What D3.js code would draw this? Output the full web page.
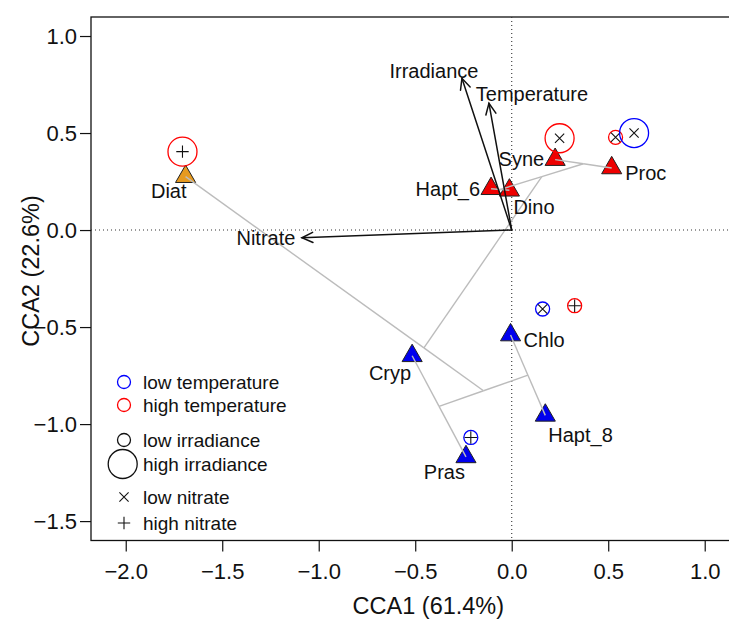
<!DOCTYPE html>
<html>
<head>
<meta charset="utf-8">
<script src="https://cdn.jsdelivr.net/npm/d3@7"></script>
<style>
  html, body { margin: 0; padding: 0; background: #fff; }
  svg { display: block; font-family: "Liberation Sans", Arial, Helvetica, sans-serif; }
</style>
</head>
<body>
<svg id="chart" width="729" height="619"></svg>
<script>
// ---- Species scores (CCA1, CCA2) ----
const species     = ["Diat", "Hapt_6", "Dino", "Syne", "Proc", "Cryp", "Chlo", "Hapt_8", "Pras"];
const speciesCCA1 = [-1.69, -0.107, -0.012, 0.225, 0.518, -0.516, -0.006, 0.174, -0.237];
const speciesCCA2 = [0.275, 0.213, 0.205, 0.363, 0.320, -0.648, -0.541, -0.955, -1.169];
const speciesCluster = [1, 2, 2, 2, 2, 3, 3, 3, 3];

// hclust-style merge table (negative = species index, positive = earlier merge)
const clusterMerges = [
  [-2, -3],   // Hapt_6 + Dino
  [-4, -5],   // Syne + Proc
  [-7, -8],   // Chlo + Hapt_8
  [-6, -9],   // Cryp + Pras
  [3, 4],
  [-1, 5],    // Diat joins the lower group
  [1, 2],
  [6, 7]
];

// ---- Sample scores and their environmental levels ----
const sampleCCA1 = [-1.706, 0.248, 0.538, 0.634, 0.160, 0.326, -0.212];
const sampleCCA2 = [0.404, 0.473, 0.478, 0.500, -0.407, -0.390, -1.069];
const sampleTemperature = ["high", "high", "high", "low", "low", "high", "low"];
const sampleIrradiance  = ["high", "high", "low", "high", "low", "low", "low"];
const sampleNitrate     = ["high", "low", "low", "low", "low", "high", "high"];

// ---- Environmental biplot arrows ----
const envNames = ["Irradiance", "Temperature", "Nitrate"];
const envCCA1  = [-0.258, -0.118, -1.087];
const envCCA2  = [0.782, 0.653, -0.040];

// ---- Axes ----
const xTicks = [-2.0, -1.5, -1.0, -0.5, 0.0, 0.5, 1.0];
const yTicks = [-1.5, -1.0, -0.5, 0.0, 0.5, 1.0];
const xTitle = "CCA1 (61.4%)";
const yTitle = "CCA2 (22.6%)";

const legendLabels = ["low temperature", "high temperature", "low irradiance",
                      "high irradiance", "low nitrate", "high nitrate"];

// ---------------------------------------------------------------
const svg = d3.select("#chart");
const plot = { left: 91, top: 17, right: 765.7, bottom: 540.5 };

const x = d3.scaleLinear().domain([-2.18, 1.316]).range([plot.left, plot.right]);
const y = d3.scaleLinear().domain([-1.6, 1.098]).range([plot.bottom, plot.top]);

const clusterColor = { 1: "#e69a20", 2: "#ee0000", 3: "#0000ee" };
const tempColor = { low: "#0000ff", high: "#ff0000" };
const irrRadius = { low: 7, high: 14.5 };

// axes
const fmt = d3.format(".1f");
const xAxis = svg.append("g")
  .attr("transform", `translate(0,${plot.bottom})`)
  .call(d3.axisBottom(x).tickValues(xTicks).tickFormat(fmt).tickSize(11).tickPadding(12));
const yAxis = svg.append("g")
  .attr("transform", `translate(${plot.left},0)`)
  .call(d3.axisLeft(y).tickValues(yTicks).tickFormat(fmt).tickSize(11).tickPadding(3));
[xAxis, yAxis].forEach(g => {
  g.select(".domain").remove();
  g.selectAll(".tick line").attr("stroke", "#111").attr("stroke-width", 1.2);
  g.selectAll(".tick text").attr("fill", "#111").style("font-size", "22px")
    .style("font-family", "'Liberation Sans', Arial, sans-serif");
});

// frame
svg.append("rect")
  .attr("x", plot.left).attr("y", plot.top)
  .attr("width", plot.right - plot.left).attr("height", plot.bottom - plot.top)
  .attr("fill", "none").attr("stroke", "#111").attr("stroke-width", 1.3);

// axis titles
svg.append("text")
  .attr("x", (plot.left + plot.right) / 2).attr("y", 614)
  .attr("text-anchor", "middle").style("font-size", "23.5px").attr("fill", "#111")
  .text(xTitle);
svg.append("text")
  .attr("transform", "translate(38.5,271) rotate(-90)")
  .attr("text-anchor", "middle").style("font-size", "23.5px").attr("fill", "#111")
  .text(yTitle);

// zero reference lines
const inner = svg.append("g");
inner.append("line")
  .attr("x1", x(0)).attr("x2", x(0)).attr("y1", plot.top).attr("y2", plot.bottom)
  .attr("stroke", "#333").attr("stroke-width", 1.1).attr("stroke-dasharray", "1,3");
inner.append("line")
  .attr("x1", plot.left).attr("x2", plot.right).attr("y1", y(0)).attr("y2", y(0))
  .attr("stroke", "#333").attr("stroke-width", 1.1).attr("stroke-dasharray", "1,3");

// species triangles
const tri = d3.symbol().type(d3.symbolTriangle).size(175);
inner.selectAll("path.sp")
  .data(species)
  .join("path")
  .attr("class", "sp")
  .attr("transform", (d, i) => `translate(${x(speciesCCA1[i])},${y(speciesCCA2[i])})`)
  .attr("d", tri)
  .attr("fill", (d, i) => clusterColor[speciesCluster[i]])
  .attr("stroke", "#222").attr("stroke-width", 1);

// cluster tree drawn between weighted centroids
const nodes = [];
const ref = r => r < 0
  ? { x: speciesCCA1[-r - 1], y: speciesCCA2[-r - 1], n: 1 }
  : nodes[r - 1];
const segments = [];
clusterMerges.forEach(([a, b]) => {
  const A = ref(a), B = ref(b), n = A.n + B.n;
  const c = { x: (A.x * A.n + B.x * B.n) / n, y: (A.y * A.n + B.y * B.n) / n, n };
  nodes.push(c);
  segments.push([A, c], [B, c]);
});
inner.selectAll("line.tree")
  .data(segments)
  .join("line")
  .attr("class", "tree")
  .attr("x1", d => x(d[0].x)).attr("y1", d => y(d[0].y))
  .attr("x2", d => x(d[1].x)).attr("y2", d => y(d[1].y))
  .attr("stroke", "#bcbcbc").attr("stroke-width", 1.4);

// environmental arrows
const headLen = 12, headAng = 25 * Math.PI / 180;
envNames.forEach((name, i) => {
  const x0 = x(0), y0 = y(0), x1 = x(envCCA1[i]), y1 = y(envCCA2[i]);
  const ang = Math.atan2(y0 - y1, x0 - x1);
  const g = inner.append("g").attr("stroke", "#111").attr("stroke-width", 1.5)
    .attr("fill", "none").attr("stroke-linecap", "round");
  g.append("line").attr("x1", x0).attr("y1", y0).attr("x2", x1).attr("y2", y1);
  g.append("path").attr("d",
    `M${x1 + headLen * Math.cos(ang + headAng)},${y1 + headLen * Math.sin(ang + headAng)}` +
    `L${x1},${y1}` +
    `L${x1 + headLen * Math.cos(ang - headAng)},${y1 + headLen * Math.sin(ang - headAng)}`);
});
const envLabelOffset = {
  Irradiance:  { dx: -28, dy: -8,  anchor: "middle" },
  Temperature: { dx: 43,  dy: -10, anchor: "middle" },
  Nitrate:     { dx: -36, dy: 0,   anchor: "middle" }
};
inner.selectAll("text.env")
  .data(envNames)
  .join("text")
  .attr("class", "env")
  .attr("x", (d, i) => x(envCCA1[i]) + envLabelOffset[d].dx)
  .attr("y", (d, i) => y(envCCA2[i]) + envLabelOffset[d].dy)
  .attr("dy", "0.36em")
  .attr("text-anchor", d => envLabelOffset[d].anchor)
  .style("font-size", "20px").attr("fill", "#111")
  .text(d => d);

// sample symbols: colour = temperature, size = irradiance, mark = nitrate
const samples = sampleCCA1.map((v, i) => ({
  cx: x(v), cy: y(sampleCCA2[i]),
  t: sampleTemperature[i], r: irrRadius[sampleIrradiance[i]], n: sampleNitrate[i]
}));
const markPath = (kind, cx, cy) => {
  if (kind === "low") {
    const s = 4.6;
    return `M${cx - s},${cy - s}L${cx + s},${cy + s}M${cx - s},${cy + s}L${cx + s},${cy - s}`;
  }
  const s = 6.2;
  return `M${cx - s},${cy}L${cx + s},${cy}M${cx},${cy - s}L${cx},${cy + s}`;
};
const sg = inner.selectAll("g.sample").data(samples).join("g").attr("class", "sample");
sg.append("circle")
  .attr("cx", d => d.cx).attr("cy", d => d.cy).attr("r", d => d.r)
  .attr("fill", "none").attr("stroke", d => tempColor[d.t]).attr("stroke-width", 1.3);
sg.append("path")
  .attr("d", d => markPath(d.n, d.cx, d.cy))
  .attr("stroke", "#111").attr("stroke-width", 1.1).attr("fill", "none");

// species labels
const spLabelOffset = {
  Diat:   { dx: 1,   dy: 14.5, anchor: "end" },
  Hapt_6: { dx: -11, dy: 0,    anchor: "end" },
  Dino:   { dx: 4,   dy: 17,   anchor: "start" },
  Syne:   { dx: -11, dy: -1,   anchor: "end" },
  Proc:   { dx: 13.5, dy: 5,   anchor: "start" },
  Cryp:   { dx: -1,  dy: 17,   anchor: "end" },
  Chlo:   { dx: 13,  dy: 5,    anchor: "start" },
  Hapt_8: { dx: 3,   dy: 19,   anchor: "start" },
  Pras:   { dx: -1,  dy: 15,   anchor: "end" }
};
inner.selectAll("text.sp")
  .data(species)
  .join("text")
  .attr("class", "sp")
  .attr("x", (d, i) => x(speciesCCA1[i]) + spLabelOffset[d].dx)
  .attr("y", (d, i) => y(speciesCCA2[i]) + spLabelOffset[d].dy)
  .attr("dy", "0.36em")
  .attr("text-anchor", d => spLabelOffset[d].anchor)
  .style("font-size", "20px").attr("fill", "#111")
  .text(d => d);

// legend
const legendRows = [
  { y: 382, sym: "circle", r: 6.5, color: tempColor.low },
  { y: 405, sym: "circle", r: 6.5, color: tempColor.high },
  { y: 440, sym: "circle", r: 6.5, color: "#111" },
  { y: 464, sym: "circle", r: 14.5, color: "#111", cx: 122.7 },
  { y: 497, sym: "low" },
  { y: 523, sym: "high" }
];
const lg = svg.append("g");
legendRows.forEach((row, i) => {
  const cx = row.cx || 124;
  if (row.sym === "circle") {
    lg.append("circle").attr("cx", cx).attr("cy", row.y).attr("r", row.r)
      .attr("fill", "none").attr("stroke", row.color).attr("stroke-width", 1.3);
  } else {
    lg.append("path").attr("d", markPath(row.sym, cx, row.y))
      .attr("stroke", "#111").attr("stroke-width", 1.1).attr("fill", "none");
  }
  lg.append("text").attr("x", 143).attr("y", row.y).attr("dy", "0.36em")
    .style("font-size", "19px").attr("fill", "#111").text(legendLabels[i]);
});
</script>
</body>
</html>
